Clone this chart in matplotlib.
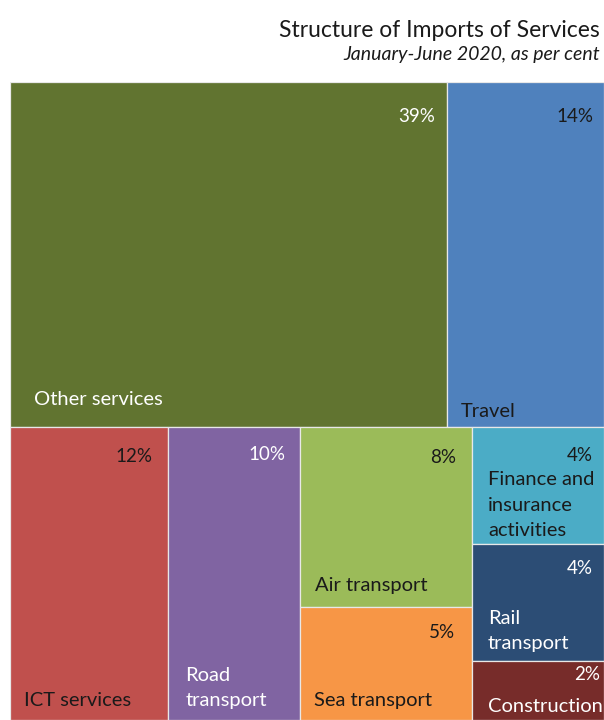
import matplotlib
matplotlib.use("Agg")
import matplotlib.pyplot as plt
from matplotlib.patches import Rectangle

plt.rcParams['font.family'] = ['Lato', 'DejaVu Sans']

# Shares of service imports, per cent
categories = ["Other services", "Travel", "ICT services", "Road\ntransport",
              "Air transport", "Sea transport", "Finance and\ninsurance\nactivities",
              "Rail\ntransport", "Construction"]
shares = [39, 14, 12, 10, 8, 5, 4, 4, 2]

# Treemap grouping: top row and bottom-row columns (indices into categories)
top_row = [0, 1]
bottom_columns = [[2], [3], [4, 5], [6, 7, 8]]

# Styling
colors = ["#617430", "#4F81BD", "#C0504D", "#8064A2", "#9BBB59",
          "#F79646", "#4BACC6", "#2C4D75", "#772C2A"]
name_colors = ["white", "#1a1a1a", "#1a1a1a", "white", "#1a1a1a",
               "#1a1a1a", "#1a1a1a", "white", "white"]
pct_colors = ["white", "#1a1a1a", "#1a1a1a", "white", "#1a1a1a",
              "#1a1a1a", "#1a1a1a", "white", "white"]
# (name left pad, name baseline up, pct right pad, pct centre down) in pixels
label_offsets = [(24, 23, 12, 34), (14, 11, 11, 35), (14, 15, 16, 29),
                 (17, 15, 15, 27), (15, 17, 16, 30), (14, 15, 17, 25),
                 (16, 9, 11, 28), (16, 13, 11, 24), (16, 9, 4, 13)]

fig = plt.figure(figsize=(6.04, 7.2), dpi=100)
ax = fig.add_axes([10 / 604, 0, 594 / 604, 638 / 720])
ax.set_xlim(0, 1)
ax.set_ylim(1, 0)
ax.axis("off")

total = sum(shares)
top_sum = sum(shares[i] for i in top_row)
top_h = top_sum / total

rects = {}
x = 0.0
for i in top_row:
    w = shares[i] / top_sum
    rects[i] = (x, 0.0, w, top_h)
    x += w

bottom_sum = total - top_sum
x = 0.0
for col in bottom_columns:
    col_sum = sum(shares[i] for i in col)
    w = col_sum / bottom_sum
    y = top_h
    for i in col:
        h = (1 - top_h) * shares[i] / col_sum
        rects[i] = (x, y, w, h)
        y += h
    x += w

fs = 14.5
descent = 4
for i, (rx, ry, rw, rh) in rects.items():
    ax.add_patch(Rectangle((rx, ry), rw, rh, facecolor=colors[i],
                           edgecolor="#e8e8e8", linewidth=0.9))
    npx, nup, ppx, pdown = label_offsets[i]
    ax.annotate(categories[i], (rx, ry + rh), xytext=(npx, nup - descent),
                textcoords="offset pixels", ha="left", va="bottom",
                color=name_colors[i], fontsize=fs, linespacing=1.6)
    ax.annotate(f"{shares[i]}%", (rx + rw, ry), xytext=(-ppx, -pdown),
                textcoords="offset pixels", ha="right", va="center",
                color=pct_colors[i], fontsize=fs - 1)

fig.text(600 / 604, 1 - 37 / 720, "Structure of Imports of Services",
         ha="right", va="baseline", fontsize=16.5, color="#1a1a1a")
fig.text(600 / 604, 1 - 60 / 720, "January-June 2020, as per cent",
         ha="right", va="baseline", fontsize=14, style="italic", color="#1a1a1a")

fig.savefig("out.png", dpi=100)
